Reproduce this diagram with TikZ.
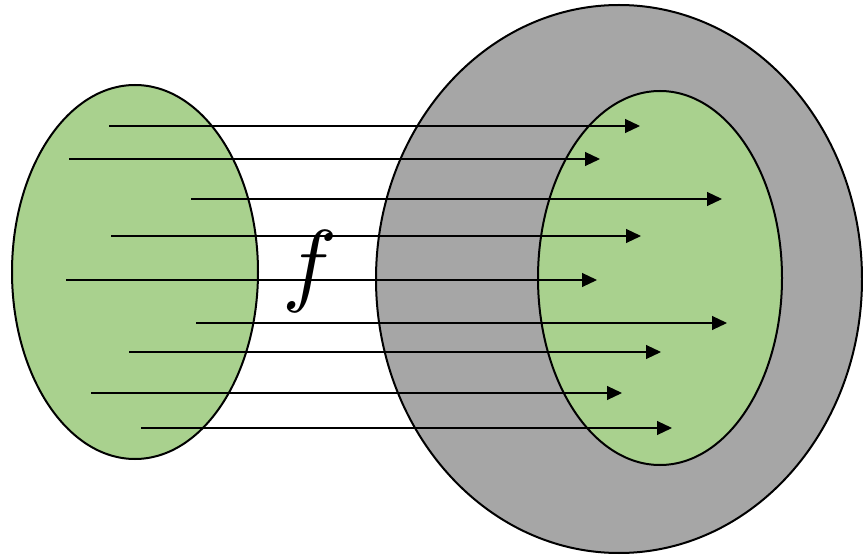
\documentclass[tikz,border=0pt]{standalone}
\usetikzlibrary{arrows.meta}
\definecolor{setgreen}{HTML}{A9D18E}
\definecolor{setgray}{HTML}{A6A6A6}
\begin{document}
\begin{tikzpicture}[x=1pt,y=-1pt,
  maparrow/.style={line width=1.1pt,-{Triangle[length=15pt,width=14pt]}}]
\useasboundingbox (0,0) rectangle (863,556);
\fill[setgreen,draw=black,line width=2pt] (135,272) ellipse [x radius=123,y radius=187];
\coordinate (dom) at (135,272);
\fill[setgray,draw=black,line width=2pt] (619,279) ellipse [x radius=243,y radius=274];
\coordinate (cod) at (619,279);
\fill[setgreen,draw=black,line width=2pt] (660,278) ellipse [x radius=122,y radius=187];
\coordinate (img) at (660,278);
\node[scale=9.2] (f) at (310,272) {$f$};
\foreach \i/\xa/\xb/\yy in {1/109/640/126,2/69/600/159,3/191/722/199,4/111/641/236,5/66/597/280,6/196/727/323,7/129/661/352,8/91/622/393,9/141/672/428}{
  \coordinate (s\i) at (\xa,\yy);
  \coordinate (t\i) at (\xb,\yy);
  \draw[maparrow] (s\i) -- (t\i);
}
\end{tikzpicture}
\end{document}
